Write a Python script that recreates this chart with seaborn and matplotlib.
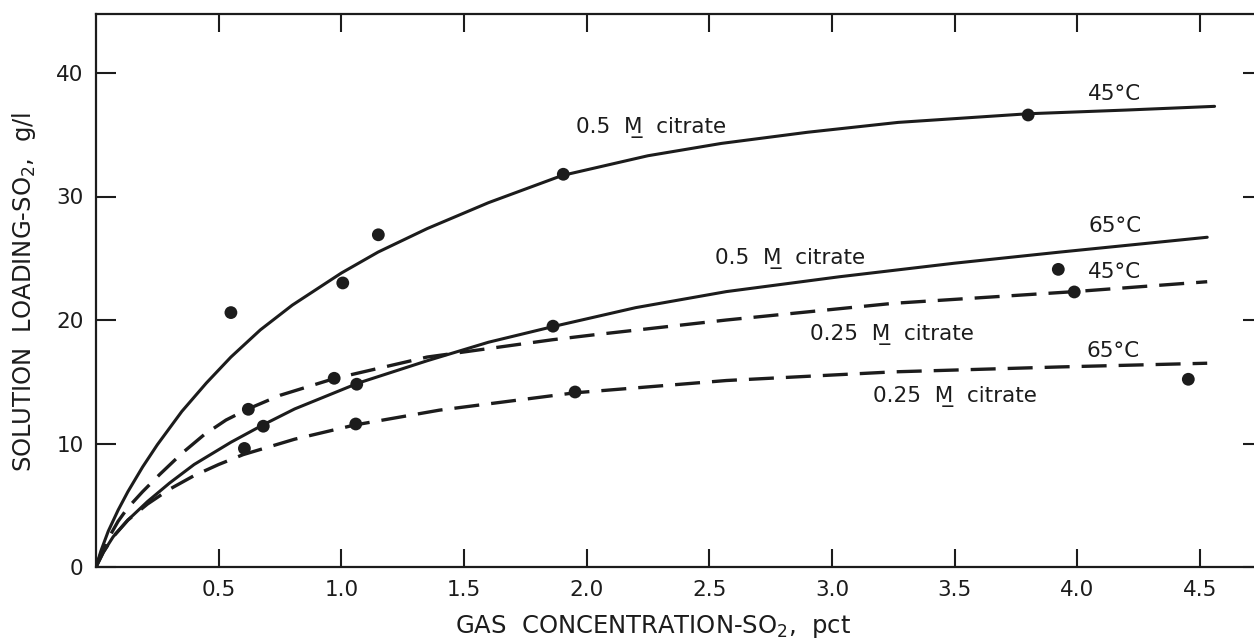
import matplotlib
matplotlib.use("Agg")
import matplotlib.pyplot as plt
import seaborn as sns

# ---------------- data ----------------
# Curve: 0.5 M citrate, 45 C (solid, top)
c45_05_x = [0, 0.02, 0.05, 0.09, 0.13, 0.19, 0.25, 0.35, 0.45, 0.55, 0.67,
            0.8, 1.0, 1.15, 1.35, 1.6, 1.9, 2.25, 2.55, 2.9, 3.27, 3.8, 4.2,
            4.56]
c45_05_y = [0, 1.3, 2.9, 4.6, 6.1, 8.1, 9.9, 12.6, 14.9, 17.0, 19.2,
            21.2, 23.8, 25.5, 27.4, 29.5, 31.7, 33.3, 34.3, 35.2, 36.0, 36.7,
            37.0, 37.3]
# Curve: 0.5 M citrate, 65 C (solid, lower)
c65_05_x = [0, 0.03, 0.07, 0.13, 0.21, 0.3, 0.4, 0.55, 0.68, 0.81, 1.07,
            1.35, 1.6, 1.87, 2.2, 2.57, 3.03, 3.5, 3.93, 4.53]
c65_05_y = [0, 1.2, 2.45, 3.8, 5.3, 6.8, 8.3, 10.1, 11.5, 12.8, 14.9,
            16.7, 18.2, 19.5, 21.0, 22.3, 23.5, 24.6, 25.5, 26.7]
# Curve: 0.25 M citrate, 45 C (dashed, upper)
c45_025_x = [0, 0.02, 0.05, 0.09, 0.13, 0.19, 0.26, 0.35, 0.44, 0.53, 0.62,
             0.75, 0.97, 1.35, 1.86, 2.03, 2.57, 3.25, 3.99, 4.53]
c45_025_y = [0, 1.1, 2.3, 3.7, 4.8, 6.1, 7.5, 9.2, 10.7, 11.9, 12.8,
             13.9, 15.25, 17.0, 18.4, 18.8, 20.0, 21.35, 22.3, 23.1]
# Curve: 0.25 M citrate, 65 C (dashed, bottom)
c65_025_x = [0, 0.03, 0.07, 0.13, 0.21, 0.3, 0.4, 0.5, 0.6, 0.81, 1.055,
             1.4, 1.95, 2.57, 3.25, 3.93, 4.53]
c65_025_y = [0, 1.2, 2.45, 3.8, 5.1, 6.3, 7.4, 8.3, 9.1, 10.35, 11.5,
             12.7, 14.1, 15.1, 15.8, 16.2, 16.5]

# Measured points
p45_05_x = [0.55, 1.006, 1.151, 1.905, 3.80]
p45_05_y = [20.6, 23.0, 26.9, 31.8, 36.6]
p65_05_x = [0.682, 1.063, 1.863, 3.923]
p65_05_y = [11.4, 14.8, 19.5, 24.1]
p45_025_x = [0.621, 0.971, 3.988]
p45_025_y = [12.77, 15.28, 22.27]
p65_025_x = [0.605, 1.059, 1.953, 4.453]
p65_025_y = [9.6, 11.58, 14.17, 15.2]

x_ticks = [0.5, 1.0, 1.5, 2.0, 2.5, 3.0, 3.5, 4.0, 4.5]
x_tick_labels = ["0.5", "1.0", "1.5", "2.0", "2.5", "3.0", "3.5", "4.0", "4.5"]
y_ticks = [0, 10, 20, 30, 40]
y_tick_labels = ["0", "10", "20", "30", "40"]

citrate_05 = "0.5  M\u0332  citrate"
citrate_025 = "0.25  M\u0332  citrate"
label_texts = [citrate_05, "45°C", "65°C", citrate_05, "45°C",
               citrate_025, "65°C", citrate_025]

x_label = "GAS  CONCENTRATION-SO$_2$,  pct"
y_label = "SOLUTION  LOADING-SO$_2$,  g/l"

# ---------------- styling ----------------
sns.set_theme(style="ticks")
plt.rcParams["font.family"] = ["DejaVu Sans"]
plt.rcParams["mathtext.fontset"] = "dejavusans"

ink = "#1c1c1c"
fs = 15.5
fs_lab = 17.5

fig = plt.figure(figsize=(12.54, 6.38), dpi=100)
fig.patch.set_facecolor("white")
ax = fig.add_axes([96 / 1254, 71 / 638, 1167 / 1254, 553 / 638])
ax.set_facecolor("white")

lw = 2.2
dash = (0, (7.5, 3.6))
sns.lineplot(x=c45_05_x, y=c45_05_y, ax=ax, color=ink, lw=lw, sort=False,
             errorbar=None)
sns.lineplot(x=c65_05_x, y=c65_05_y, ax=ax, color=ink, lw=lw, sort=False,
             errorbar=None)
sns.lineplot(x=c45_025_x, y=c45_025_y, ax=ax, color=ink, lw=2.4, sort=False,
             errorbar=None, linestyle=dash)
sns.lineplot(x=c65_025_x, y=c65_025_y, ax=ax, color=ink, lw=2.4, sort=False,
             errorbar=None, linestyle=dash)

for px, py in [(p45_05_x, p45_05_y), (p65_05_x, p65_05_y),
               (p45_025_x, p45_025_y), (p65_025_x, p65_025_y)]:
    sns.scatterplot(x=px, y=py, ax=ax, color=ink, s=85, edgecolor="none",
                    zorder=4)

# annotation placement (data coords, centre x / baseline y)
label_pos = [(2.263, 35.12), (4.154, 37.8), (4.154, 27.15), (2.831, 24.53),
             (4.154, 23.38), (3.243, 18.38), (4.148, 17.03), (3.502, 13.38)]
for txt, (tx, ty) in zip(label_texts, label_pos):
    ax.text(tx, ty, txt, ha="center", va="baseline", fontsize=fs, color=ink)

ax.set_xlim(0, 1167 / 245.3)
ax.set_ylim(0, 553 / 12.35)
ax.set_xticks(x_ticks)
ax.set_xticklabels(x_tick_labels)
ax.set_yticks(y_ticks)
ax.set_yticklabels(y_tick_labels)

ax.tick_params(axis="x", which="both", direction="in", length=13, width=1.5,
               top=True, bottom=True, labelsize=fs, pad=9, colors=ink)
ax.tick_params(axis="y", which="both", direction="in", length=14.5, width=1.5,
               left=True, right=True, labelsize=fs, pad=9, colors=ink)
for sp in ax.spines.values():
    sp.set_visible(True)
    sp.set_linewidth(1.6)
    sp.set_color(ink)

ax.set_xlabel(x_label, fontsize=fs_lab, color=ink)
ax.set_ylabel(y_label, fontsize=fs_lab, color=ink)
ax.xaxis.set_label_coords((653 - 96) / 1167, -(626.7 - 567) / 553)
ax.xaxis.label.set_va("center")
ax.yaxis.set_label_coords(-(96 - 24) / 1167, (567 - 292.5) / 553)
ax.yaxis.label.set_va("center")

fig.savefig("out.png", dpi=100, facecolor="white")
